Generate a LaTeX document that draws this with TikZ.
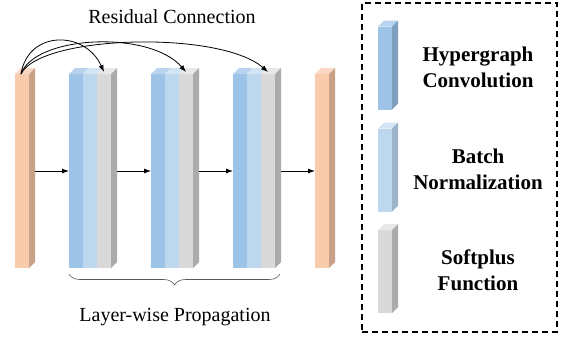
\documentclass[tikz,border=0pt]{standalone}
\usepackage{fontspec}
\setmainfont{Liberation Serif}
\usetikzlibrary{arrows.meta,decorations.pathreplacing}

\definecolor{orfront}{HTML}{F8CBAD}
\definecolor{orside}{HTML}{C9A088}
\definecolor{ortop}{HTML}{FAD7C2}
\definecolor{hcfront}{HTML}{9DC3E6}
\definecolor{hcside}{HTML}{7F9FBF}
\definecolor{hctop}{HTML}{B7D3EE}
\definecolor{bnfront}{HTML}{BDD7EE}
\definecolor{bnside}{HTML}{9DB3C9}
\definecolor{bntop}{HTML}{D3E5F5}
\definecolor{spfront}{HTML}{D9D9D9}
\definecolor{spside}{HTML}{ABABAB}
\definecolor{sptop}{HTML}{E8E8E8}

\tikzset{
  layer/.style={rectangle, minimum width=14pt, minimum height=194pt, inner sep=0pt, outer sep=0pt},
  keybar/.style={rectangle, minimum width=14pt, minimum height=83pt, inner sep=0pt, outer sep=0pt},
  flow/.style={-{Latex[length=7pt,width=5pt]}, line width=0.8pt},
  res/.style={-{Latex[length=7pt,width=5pt]}, line width=0.8pt},
  keytext/.style={align=center, font=\fontsize{21}{26}\selectfont\bfseries},
  caption/.style={font=\fontsize{20}{24}\selectfont}
}

% faces of the 3D bars
\newcommand{\topface}[2]{\fill[#2] (#1.north west) -- ++(6pt,6pt) -- ([shift={(6pt,6pt)}]#1.north east) -- (#1.north east) -- cycle;}
\newcommand{\sideface}[2]{\fill[#2] (#1.north east) -- ++(6pt,6pt) -- ([shift={(6pt,6pt)}]#1.south east) -- (#1.south east) -- cycle;}

\begin{document}
\begin{tikzpicture}[x=1pt, y=-1pt]
  \useasboundingbox (0,0) rectangle (563,341);

  % input and output
  \node[layer, fill=orfront] (in) at (22,171) {};
  \topface{in}{ortop} \sideface{in}{orside}
  \node[layer, fill=orfront] (out) at (322,171) {};
  \topface{out}{ortop} \sideface{out}{orside}

  % block 1
  \node[layer, fill=hcfront] (hc1) at (76,171) {};
  \node[layer, fill=bnfront] (bn1) at (90,171) {};
  \node[layer, fill=spfront] (sp1) at (104,171) {};
  \topface{hc1}{hctop} \topface{bn1}{bntop} \topface{sp1}{sptop} \sideface{sp1}{spside}

  % block 2
  \node[layer, fill=hcfront] (hc2) at (158,171) {};
  \node[layer, fill=bnfront] (bn2) at (172,171) {};
  \node[layer, fill=spfront] (sp2) at (186,171) {};
  \topface{hc2}{hctop} \topface{bn2}{bntop} \topface{sp2}{sptop} \sideface{sp2}{spside}

  % block 3
  \node[layer, fill=hcfront] (hc3) at (240,171) {};
  \node[layer, fill=bnfront] (bn3) at (254,171) {};
  \node[layer, fill=spfront] (sp3) at (268,171) {};
  \topface{hc3}{hctop} \topface{bn3}{bntop} \topface{sp3}{sptop} \sideface{sp3}{spside}

  % propagation
  \draw[flow] ([xshift=6pt]in.east) -- (hc1.west);
  \draw[flow] ([xshift=6pt]sp1.east) -- (hc2.west);
  \draw[flow] ([xshift=6pt]sp2.east) -- (hc3.west);
  \draw[flow] ([xshift=6pt]sp3.east) -- (out.west);

  % residual connections
  \draw[res] ([xshift=-1pt]in.north) .. controls (28,30) and (85,30) .. ([yshift=2pt]sp1.north);
  \draw[res] ([xshift=-1pt]in.north) .. controls (35,35) and (150,30) .. ([yshift=2pt]sp2.north);
  \draw[res] ([xshift=-1pt]in.north) .. controls (40,35) and (220,30) .. ([yshift=2pt]sp3.north);
  \node[caption] (restext) at (172,17) {Residual Connection};

  % brace
  \draw[line width=0.6pt, gray!70!black, decorate, decoration={brace, mirror, amplitude=11pt}]
    ([yshift=-6pt]hc1.south west) -- ([shift={(5pt,-6pt)}]sp3.south east);
  \node[caption] (proptext) at (175,317) {Layer-wise Propagation};

  % legend
  \node[draw, dashed, line width=1.1pt, dash pattern=on 6pt off 4pt, minimum width=195pt, minimum height=329pt] (legend) at (459.5,167.5) {};
  \node[keybar, fill=hcfront] (khc) at (385,68) {};
  \topface{khc}{hctop} \sideface{khc}{hcside}
  \node[keybar, fill=bnfront] (kbn) at (385,170) {};
  \topface{kbn}{bntop} \sideface{kbn}{bnside}
  \node[keybar, fill=spfront] (ksp) at (385,271.5) {};
  \topface{ksp}{sptop} \sideface{ksp}{spside}
  \node[keytext] (thc) at (478,67) {Hypergraph\\Convolution};
  \node[keytext] (tbn) at (478,169) {Batch\\Normalization};
  \node[keytext] (tsp) at (478,270) {Softplus\\Function};
\end{tikzpicture}
\end{document}
